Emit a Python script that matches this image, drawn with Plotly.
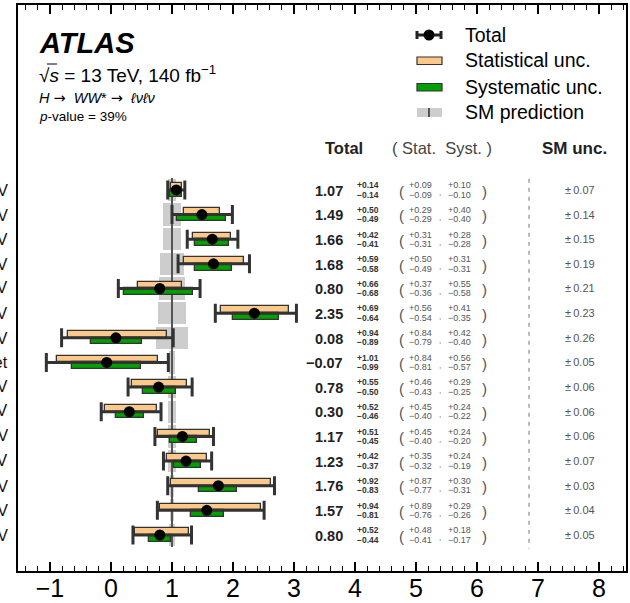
import plotly.graph_objects as go

# ---------------- data ----------------
labels = [
    "ggF, 0-jet, p<sub>T</sub><sup>H</sup> < 200 GeV",
    "ggF, 1-jet, p<sub>T</sub><sup>H</sup> < 60 GeV",
    "ggF, 1-jet, 60 ≤ p<sub>T</sub><sup>H</sup> < 120 GeV",
    "ggF, 1-jet, 120 ≤ p<sub>T</sub><sup>H</sup> < 200 GeV",
    "ggF, ≥2-jet, m<sub>jj</sub> < 350 GeV",
    "ggF, 200 ≤ p<sub>T</sub><sup>H</sup> < 300 GeV",
    "ggF, p<sub>T</sub><sup>H</sup> ≥ 300 GeV",
    "VBF, ≤1-jet",
    "VBF, 350 ≤ m<sub>jj</sub> < 700 GeV",
    "VBF, 700 ≤ m<sub>jj</sub> < 1000 GeV",
    "VBF, 1000 ≤ m<sub>jj</sub> < 1500 GeV",
    "VBF, m<sub>jj</sub> ≥ 1500 GeV",
    "VBF, 200 ≤ p<sub>T</sub><sup>H</sup> < 300 GeV",
    "VBF, 300 ≤ p<sub>T</sub><sup>H</sup> < 450 GeV",
    "VBF, p<sub>T</sub><sup>H</sup> ≥ 450 GeV",
]
central = [1.07, 1.49, 1.66, 1.68, 0.80, 2.35, 0.08, -0.07, 0.78, 0.30, 1.17, 1.23, 1.76, 1.57, 0.80]
tot_up = [0.14, 0.50, 0.42, 0.59, 0.66, 0.69, 0.94, 1.01, 0.55, 0.52, 0.51, 0.42, 0.92, 0.94, 0.52]
tot_dn = [0.14, 0.49, 0.41, 0.58, 0.68, 0.64, 0.89, 0.99, 0.50, 0.46, 0.45, 0.37, 0.83, 0.81, 0.44]
stat_up = [0.09, 0.29, 0.31, 0.50, 0.37, 0.56, 0.84, 0.84, 0.46, 0.45, 0.45, 0.35, 0.87, 0.89, 0.48]
stat_dn = [0.09, 0.29, 0.31, 0.49, 0.36, 0.54, 0.79, 0.81, 0.43, 0.40, 0.40, 0.32, 0.77, 0.76, 0.41]
syst_up = [0.10, 0.40, 0.28, 0.31, 0.55, 0.41, 0.42, 0.56, 0.29, 0.24, 0.24, 0.24, 0.30, 0.29, 0.18]
syst_dn = [0.10, 0.40, 0.28, 0.31, 0.58, 0.35, 0.40, 0.57, 0.25, 0.22, 0.20, 0.19, 0.31, 0.26, 0.17]
sm_unc = [0.07, 0.14, 0.15, 0.19, 0.21, 0.23, 0.26, 0.05, 0.06, 0.06, 0.06, 0.07, 0.03, 0.04, 0.05]
SM_VALUE = 1.0
x_ticks = [-1, 0, 1, 2, 3, 4, 5, 6, 7, 8]

# ---------------- layout helpers ----------------
W, H = 630, 603
ML, MR, MT, MB = 18, 4, 5, 32
PW, PH = W - ML - MR, H - MT - MB


def px(x):
    return (x - ML) / PW


def py(y):
    return (H - MB - y) / PH


FONT = "Liberation Sans, Arial, sans-serif"
ORANGE = "#fdc98b"
GREEN = "#01a001"
EDGE = "#333333"

rows = list(range(len(central)))
n = len(rows)

fig = go.Figure()

# SM uncertainty bands
fig.add_trace(go.Bar(
    orientation="h", y=rows,
    base=[SM_VALUE - s for s in sm_unc], x=[2 * s for s in sm_unc],
    width=0.9, marker=dict(color="#cdcdcd", line=dict(width=0)),
    showlegend=False, hoverinfo="skip"))
# SM central line
fig.add_trace(go.Bar(
    orientation="h", y=[(n - 1) / 2], base=[SM_VALUE - 0.02], x=[0.04],
    width=n, marker=dict(color="#555555", line=dict(width=0)),
    showlegend=False, hoverinfo="skip"))
# statistical
fig.add_trace(go.Bar(
    orientation="h", y=rows,
    base=[c - d for c, d in zip(central, stat_dn)],
    x=[u + d for u, d in zip(stat_up, stat_dn)],
    width=0.27, offset=-0.27,
    marker=dict(color=ORANGE, line=dict(color=EDGE, width=1.3)),
    showlegend=False, hoverinfo="skip"))
# systematic
fig.add_trace(go.Bar(
    orientation="h", y=rows,
    base=[c - d for c, d in zip(central, syst_dn)],
    x=[u + d for u, d in zip(syst_up, syst_dn)],
    width=0.27, offset=0.0,
    marker=dict(color=GREEN, line=dict(color=EDGE, width=1.3)),
    showlegend=False, hoverinfo="skip"))
# total
fig.add_trace(go.Scatter(
    x=central, y=rows, mode="markers",
    marker=dict(color="black", size=11),
    error_x=dict(type="data", symmetric=False, array=tot_up, arrayminus=tot_dn,
                 color="#333333", thickness=3, width=9.5),
    showlegend=False, hoverinfo="skip"))

ann = []
shapes = []

# Row labels (left, mostly cut off)
for r, lab in zip(rows, labels):
    ann.append(dict(xref="paper", yref="y", x=px(10), y=r, xanchor="right", yanchor="middle",
                    text=lab, showarrow=False, font=dict(family=FONT, size=16, color="#111")))


def fmt(v):
    return f"{v:.2f}".replace("-", "\u2212")


for r in rows:
    c = central[r]
    ann.append(dict(xref="paper", yref="y", x=px(345), y=r + 0.03, xanchor="right", yanchor="middle",
                    text=f"<b>{fmt(c)}</b>", showarrow=False,
                    font=dict(family=FONT, size=14.5, color="#222")))
    ann.append(dict(xref="paper", yref="y", x=px(381), y=r - 0.19, xanchor="right", yanchor="middle",
                    text=f"<b>+{tot_up[r]:.2f}</b>", showarrow=False,
                    font=dict(family=FONT, size=8.5, color="#333")))
    ann.append(dict(xref="paper", yref="y", x=px(381), y=r + 0.19, xanchor="right", yanchor="middle",
                    text=f"<b>\u2212{tot_dn[r]:.2f}</b>", showarrow=False,
                    font=dict(family=FONT, size=8.5, color="#333")))
    ann.append(dict(xref="paper", yref="y", x=px(401), y=r + 0.05, xanchor="center", yanchor="middle",
                    text="(", showarrow=False, font=dict(family=FONT, size=15, color="#555")))
    ann.append(dict(xref="paper", yref="y", x=px(434), y=r - 0.19, xanchor="right", yanchor="middle",
                    text=f"+{stat_up[r]:.2f}", showarrow=False,
                    font=dict(family=FONT, size=9, color="#555")))
    ann.append(dict(xref="paper", yref="y", x=px(434), y=r + 0.19, xanchor="right", yanchor="middle",
                    text=f"\u2212{stat_dn[r]:.2f}", showarrow=False,
                    font=dict(family=FONT, size=9, color="#555")))
    ann.append(dict(xref="paper", yref="y", x=px(439.5), y=r + 0.12, xanchor="center", yanchor="middle",
                    text=",", showarrow=False, font=dict(family=FONT, size=8, color="#555")))
    ann.append(dict(xref="paper", yref="y", x=px(473), y=r - 0.19, xanchor="right", yanchor="middle",
                    text=f"+{syst_up[r]:.2f}", showarrow=False,
                    font=dict(family=FONT, size=9, color="#555")))
    ann.append(dict(xref="paper", yref="y", x=px(473), y=r + 0.19, xanchor="right", yanchor="middle",
                    text=f"\u2212{syst_dn[r]:.2f}", showarrow=False,
                    font=dict(family=FONT, size=9, color="#555")))
    ann.append(dict(xref="paper", yref="y", x=px(484), y=r + 0.05, xanchor="center", yanchor="middle",
                    text=")", showarrow=False, font=dict(family=FONT, size=15, color="#555")))
    ann.append(dict(xref="paper", yref="y", x=px(580), y=r, xanchor="center", yanchor="middle",
                    text=f"\u00b1\u2009{sm_unc[r]:.2f}", showarrow=False,
                    font=dict(family=FONT, size=11, color="#555")))

# Column headers
ann += [
    dict(xref="paper", yref="paper", x=px(344), y=py(148), xanchor="center", yanchor="middle",
         text="<b>Total</b>", showarrow=False, font=dict(family=FONT, size=16.5, color="#222")),
    dict(xref="paper", yref="paper", x=px(442), y=py(148), xanchor="center", yanchor="middle",
         text="(\u00a0Stat.\u00a0\u00a0Syst.\u00a0)", showarrow=False,
         font=dict(family=FONT, size=16.5, color="#444")),
    dict(xref="paper", yref="paper", x=px(574), y=py(148), xanchor="center", yanchor="middle",
         text="<b>SM unc.</b>", showarrow=False, font=dict(family=FONT, size=17, color="#222")),
]

ARROW = '<span style="font-family:DejaVu Sans">\u2192</span>'

# ATLAS label block
ann += [
    dict(xref="paper", yref="paper", x=px(37), y=py(43), xanchor="left", yanchor="middle",
         text="<b><i>ATLAS</i></b>", showarrow=False, font=dict(family=FONT, size=29, color="black")),
    dict(xref="paper", yref="paper", x=px(37), y=py(74), xanchor="left", yanchor="middle",
         text="\u221a<i>s</i> = 13 TeV, 140 fb<sup>\u22121</sup>", showarrow=False,
         font=dict(family=FONT, size=19, color="black")),
    dict(xref="paper", yref="paper", x=px(37), y=py(98), xanchor="left", yanchor="middle",
         text=f"<i>H</i> {ARROW}  <i>WW</i>* {ARROW}  <i>\u2113\u03bd\u2113\u03bd</i>", showarrow=False,
         font=dict(family=FONT, size=14.5, color="black")),
    dict(xref="paper", yref="paper", x=px(37), y=py(117), xanchor="left", yanchor="middle",
         text="<i>p</i>-value = 39%", showarrow=False,
         font=dict(family=FONT, size=13.5, color="black")),
]

# Legend
leg_items = [("Total", 35), ("Statistical unc.", 60), ("Systematic unc.", 87), ("SM prediction", 112)]
for txt, yy in leg_items:
    ann.append(dict(xref="paper", yref="paper", x=px(463), y=py(yy), xanchor="left", yanchor="middle",
                    text=txt, showarrow=False, font=dict(family=FONT, size=19.5, color="black")))

shapes += [
    dict(type="line", xref="paper", yref="paper", x0=px(416), x1=px(442), y0=py(35), y1=py(35),
         line=dict(color="#222", width=3)),
    dict(type="line", xref="paper", yref="paper", x0=px(417), x1=px(417), y0=py(31), y1=py(39),
         line=dict(color="#222", width=3)),
    dict(type="line", xref="paper", yref="paper", x0=px(441), x1=px(441), y0=py(31), y1=py(39),
         line=dict(color="#222", width=3)),
    dict(type="circle", xref="paper", yref="paper", x0=px(423.5), x1=px(434.5), y0=py(29.5), y1=py(40.5),
         fillcolor="black", line=dict(color="black", width=0)),
    dict(type="rect", xref="paper", yref="paper", x0=px(417), x1=px(442), y0=py(57), y1=py(64.5),
         fillcolor=ORANGE, line=dict(color=EDGE, width=1.2)),
    dict(type="rect", xref="paper", yref="paper", x0=px(417), x1=px(442), y0=py(83.5), y1=py(91),
         fillcolor=GREEN, line=dict(color=EDGE, width=1.2)),
    dict(type="rect", xref="paper", yref="paper", x0=px(417), x1=px(442), y0=py(108), y1=py(117),
         fillcolor="#cdcdcd", line=dict(width=0)),
    dict(type="line", xref="paper", yref="paper", x0=px(429), x1=px(429), y0=py(108), y1=py(117),
         line=dict(color="#555", width=2)),
    # overline of sqrt(s)
    dict(type="line", xref="paper", yref="paper", x0=px(47), x1=px(57), y0=py(64), y1=py(64),
         line=dict(color="black", width=1)),
    # dashed separator before SM column
    dict(type="line", xref="paper", yref="y", x0=px(529), x1=px(529), y0=-0.45, y1=n - 0.45,
         line=dict(color="#777", width=1, dash="4px,5px")),
]

fig.update_layout(
    width=W, height=H, autosize=False,
    margin=dict(l=ML, r=MR, t=MT, b=MB, pad=0, autoexpand=False),
    paper_bgcolor="white", plot_bgcolor="white",
    barmode="overlay", bargap=0,
    showlegend=False,
    annotations=ann, shapes=shapes,
    font=dict(family=FONT, color="black"),
    xaxis=dict(range=[-1.5246, 8.4426], tickvals=x_ticks,
               ticktext=[str(t).replace("-", "\u2212") for t in x_ticks],
               ticks="inside", ticklen=9, tickwidth=1.5, tickcolor="black",
               minor=dict(dtick=0.2, tick0=0, ticks="inside", ticklen=5, tickwidth=1, tickcolor="black"),
               showline=True, linewidth=2, linecolor="black", mirror="ticks",
               showgrid=False, zeroline=False, ticklabelstandoff=-6, automargin=False,
               tickfont=dict(family=FONT, size=25, color="black")),
    yaxis=dict(range=[n + 0.46, -7.5], showticklabels=False, ticks="", automargin=False,
               showline=True, linewidth=2, linecolor="black", mirror=True,
               showgrid=False, zeroline=False),
)

fig.write_html("out.html", config={"displayModeBar": False},
               post_script="document.body.style.margin='0';document.body.style.padding='0';")
